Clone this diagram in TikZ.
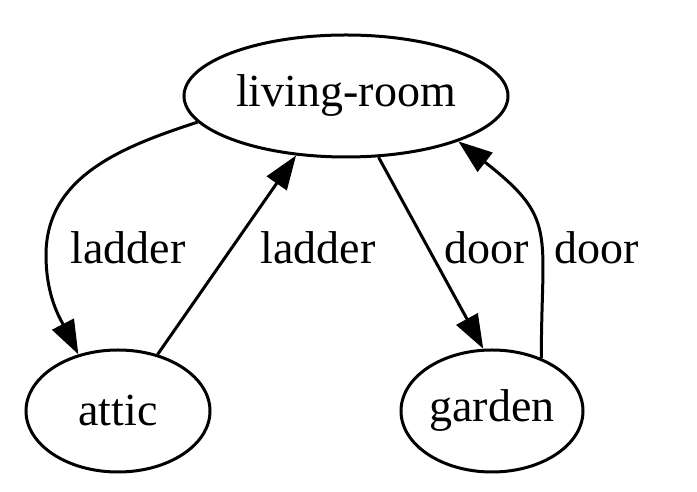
\documentclass[tikz,border=0pt]{standalone}
\usepackage{fontspec}
\setmainfont{Liberation Serif}
\usepackage{tikz}
\usetikzlibrary{arrows.meta,shapes.geometric}

\begin{document}
\begin{tikzpicture}[x=0.5pt,y=0.5pt,font=\fontsize{23}{27}\selectfont]
\tikzstyle{arrow}=[-{Triangle[length=17pt,width=12pt]},line width=1.5pt];
\tikzstyle{room}=[ellipse,draw,line width=1.5pt,inner sep=0pt];
\useasboundingbox (0,0) rectangle (697,492);
\node (living) [room,minimum width=162pt,minimum height=61pt] at (346,396) {living-room};
\node (attic) [room,minimum width=92pt,minimum height=61pt] at (118,81) {attic};
\node (garden) [room,minimum width=91pt,minimum height=61pt] at (492,81) {garden};
\node (l1) at (128,244) {ladder};
\node (l2) at (318,244) {ladder};
\node (d1) at (487,244) {door};
\node (d2) at (597,244) {door};
\coordinate (bend) at (46,237);
\draw [arrow] (living.190) to[out=198,in=90] (bend) to[out=270,in=117] (attic.125);
\draw [arrow] (attic.55) -- (living.230);
\draw [arrow] (living.298) -- (garden.98);
\draw [arrow] (garden.47) to[out=90,in=322,looseness=1.4] (living.338);
\end{tikzpicture}
\end{document}
